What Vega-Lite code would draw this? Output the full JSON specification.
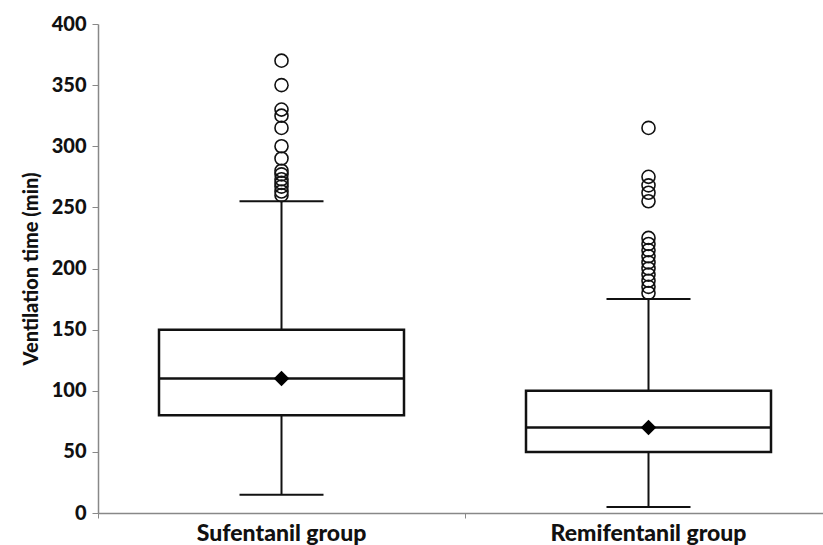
{
  "$schema": "https://vega.github.io/schema/vega-lite/v6.json",
  "width": 725,
  "height": 489,
  "autosize": "none",
  "padding": {"left": 98, "top": 24, "right": 0, "bottom": 32},
  "background": "white",
  "config": {"view": {"stroke": null}, "font": "Lato"},
  "datasets": {
    "boxes": [
      {"group": "Sufentanil group", "lower": 15, "q1": 80, "median": 110, "q3": 150, "upper": 255, "mean": 110},
      {"group": "Remifentanil group", "lower": 5, "q1": 50, "median": 70, "q3": 100, "upper": 175, "mean": 70}
    ],
    "outliers": [
      {"group": "Sufentanil group", "value": 370},
      {"group": "Sufentanil group", "value": 350},
      {"group": "Sufentanil group", "value": 330},
      {"group": "Sufentanil group", "value": 325},
      {"group": "Sufentanil group", "value": 315},
      {"group": "Sufentanil group", "value": 300},
      {"group": "Sufentanil group", "value": 290},
      {"group": "Sufentanil group", "value": 280},
      {"group": "Sufentanil group", "value": 277},
      {"group": "Sufentanil group", "value": 273},
      {"group": "Sufentanil group", "value": 270},
      {"group": "Sufentanil group", "value": 267},
      {"group": "Sufentanil group", "value": 263},
      {"group": "Sufentanil group", "value": 260},
      {"group": "Remifentanil group", "value": 315},
      {"group": "Remifentanil group", "value": 275},
      {"group": "Remifentanil group", "value": 268},
      {"group": "Remifentanil group", "value": 262},
      {"group": "Remifentanil group", "value": 255},
      {"group": "Remifentanil group", "value": 225},
      {"group": "Remifentanil group", "value": 220},
      {"group": "Remifentanil group", "value": 215},
      {"group": "Remifentanil group", "value": 210},
      {"group": "Remifentanil group", "value": 205},
      {"group": "Remifentanil group", "value": 200},
      {"group": "Remifentanil group", "value": 195},
      {"group": "Remifentanil group", "value": 190},
      {"group": "Remifentanil group", "value": 185},
      {"group": "Remifentanil group", "value": 180}
    ]
  },
  "encoding": {
    "x": {
      "field": "group", "type": "nominal",
      "sort": ["Sufentanil group", "Remifentanil group"],
      "scale": {"paddingInner": 0, "paddingOuter": 0, "range": [0, 734]},
      "axis": {
        "title": null, "labelAngle": 0, "labelFont": "Lato", "labelFontWeight": 900,
        "labelFontSize": 23, "labelColor": "#111", "labelPadding": 4, "labelLimit": 400,
        "domainColor": "#888", "domainWidth": 1.5, "tickColor": "#888", "tickSize": 5,
        "bandPosition": 0, "grid": false
      }
    }
  },
  "layer": [
    {
      "data": {"name": "boxes"},
      "mark": {"type": "rule", "color": "#111", "strokeWidth": 2},
      "encoding": {
        "y": {
          "field": "lower", "type": "quantitative",
          "scale": {"domain": [0, 400]},
          "axis": {
            "title": "Ventilation time (min)", "titleFont": "Lato", "titleFontWeight": 900,
            "titleFontSize": 20, "titleColor": "#111", "titlePadding": 10,
            "values": [0, 50, 100, 150, 200, 250, 300, 350, 400],
            "labelFont": "Lato", "labelFontWeight": 900, "labelFontSize": 20, "labelColor": "#111",
            "labelPadding": 6, "domainColor": "#888", "domainWidth": 1.5, "tickColor": "#888",
            "tickSize": 6, "grid": false
          }
        },
        "y2": {"field": "q1"}
      }
    },
    {
      "data": {"name": "boxes"},
      "mark": {"type": "rule", "color": "#111", "strokeWidth": 2},
      "encoding": {
        "y": {"field": "q3", "type": "quantitative"},
        "y2": {"field": "upper"}
      }
    },
    {
      "data": {"name": "boxes"},
      "mark": {"type": "tick", "color": "#111", "opacity": 1, "size": 84, "thickness": 2},
      "encoding": {"y": {"field": "lower", "type": "quantitative"}}
    },
    {
      "data": {"name": "boxes"},
      "mark": {"type": "tick", "color": "#111", "opacity": 1, "size": 84, "thickness": 2},
      "encoding": {"y": {"field": "upper", "type": "quantitative"}}
    },
    {
      "data": {"name": "boxes"},
      "mark": {"type": "bar", "fill": "white", "stroke": "#111", "strokeWidth": 2.5, "width": 245},
      "encoding": {
        "y": {"field": "q1", "type": "quantitative"},
        "y2": {"field": "q3"}
      }
    },
    {
      "data": {"name": "boxes"},
      "mark": {"type": "tick", "color": "#111", "opacity": 1, "size": 245, "thickness": 2.5},
      "encoding": {"y": {"field": "median", "type": "quantitative"}}
    },
    {
      "data": {"name": "boxes"},
      "mark": {"type": "point", "shape": "diamond", "filled": true, "color": "#000", "size": 240, "opacity": 1},
      "encoding": {"y": {"field": "mean", "type": "quantitative"}}
    },
    {
      "data": {"name": "outliers"},
      "mark": {"type": "point", "shape": "circle", "filled": false, "stroke": "#111", "strokeWidth": 1.6, "size": 170, "opacity": 1},
      "encoding": {"y": {"field": "value", "type": "quantitative"}}
    }
  ]
}
